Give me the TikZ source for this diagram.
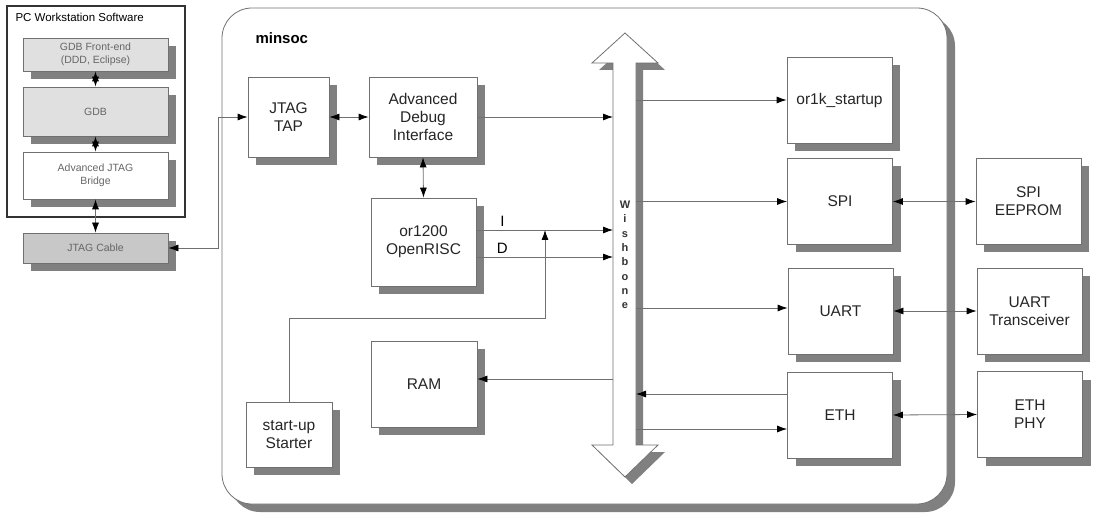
\documentclass[tikz,border=0pt]{standalone}
\usepackage{fontspec}
\setmainfont{Liberation Sans}
\usetikzlibrary{arrows.meta,shadows}
\definecolor{linegray}{HTML}{707070}
\definecolor{shadowgray}{HTML}{808080}
\definecolor{lightbox}{HTML}{E0E0E0}
\definecolor{cablebox}{HTML}{C8C8C8}
\tikzset{
	blk/.style={draw=linegray,fill=white,line width=0.8pt,align=center,text=black!85,
		font=\fontsize{15.5}{18}\selectfont,
		drop shadow={shadow xshift=8pt,shadow yshift=-8pt,fill=shadowgray,opacity=1}},
	rblk/.style={blk,minimum width=105pt,minimum height=86pt},
	swblk/.style={blk,minimum width=145pt,text=black!60,font=\fontsize{10.5}{12.5}\selectfont},
	link/.style={draw=linegray,line width=0.8pt},
}
\begin{document}
\begin{tikzpicture}[>={Latex[length=10pt,width=7pt,color=black]},x=1pt,y=-1pt]
	\useasboundingbox (0,0) rectangle (1100,518);
	% minsoc frame
	\fill[shadowgray,rounded corners=30pt] (230,16) rectangle (955,512);
	\draw[linegray,fill=white,line width=0.8pt,rounded corners=30pt] (222,8) rectangle (947,504);
	\node[anchor=west,font=\bfseries\fontsize{15}{18}\selectfont] (soclbl) at (252,38) {minsoc};
	% PC side
	\draw[black!80,line width=1.4pt] (7,6) rectangle (185,217);
	\node[anchor=west,font=\fontsize{11.5}{14}\selectfont] (pclbl) at (12,17) {PC Workstation Software};
	\node[swblk,fill=lightbox,minimum height=33pt] (gdbfe) at (95.5,54.5) {GDB Front-end\\(DDD, Eclipse)};
	\node[swblk,fill=lightbox,minimum height=49pt] (gdb) at (95.5,111.5) {GDB};
	\node[swblk,minimum height=47pt] (ajb) at (95.5,175.5) {Advanced JTAG\\Bridge};
	\node[swblk,fill=cablebox,minimum height=30pt] (cable) at (95.5,248) {JTAG Cable};
	% wishbone bus
	\fill[shadowgray,shift={(7,7)}] (613,63) -- (592,63) -- (625,33) -- (658,63) -- (636,63)
		-- (636,445) -- (658,445) -- (625,477) -- (592,445) -- (613,445) -- cycle;
	\draw[linegray,fill=white,line width=0.8pt] (613,63) -- (592,63) -- (625,33) -- (658,63) -- (636,63)
		-- (636,445) -- (658,445) -- (625,477) -- (592,445) -- (613,445) -- cycle;
	\node[align=center,font=\bfseries\fontsize{11}{14.3}\selectfont,text=black!80] (wblbl) at (625,255) {W\\i\\s\\h\\b\\o\\n\\e};
	\coordinate (wbl) at (613,0);
	\coordinate (wbr) at (636,0);
	% blocks
	\node[blk,minimum width=81pt,minimum height=80pt] (tap) at (288.5,117) {JTAG\\TAP};
	\node[blk,minimum width=108pt,minimum height=80pt] (adi) at (423,117) {Advanced\\Debug\\Interface};
	\node[blk,minimum width=105pt,minimum height=88pt] (cpu) at (423.5,242) {or1200\\OpenRISC};
	\node[blk,minimum width=106pt,minimum height=86pt] (ram) at (424,384) {RAM};
	\node[blk,minimum width=86pt,minimum height=65pt] (starter) at (289,434.5) {start-up\\Starter};
	\node[rblk] (startup) at (839.5,100) {or1k\_startup};
	\node[rblk] (spi) at (840,201.5) {SPI};
	\node[rblk] (uart) at (840.5,311) {UART};
	\node[rblk] (eth) at (840,415) {ETH};
	\node[rblk] (eeprom) at (1028.5,201.5) {SPI\\EEPROM};
	\node[rblk] (xcvr) at (1029.5,311) {UART\\Transceiver};
	\node[rblk] (phy) at (1030,414.5) {ETH\\PHY};
	% connectors
	\draw[link,<->] (gdbfe.south) -- (gdb.north);
	\draw[link,<->] (gdb.south) -- (ajb.north);
	\draw[link,<->] (ajb.south) -- (cable.north);
	\draw[link,<->] (cable.east) -- ++(50,0) |- (tap.west);
	\draw[link,<->] (tap.east) -- (adi.west);
	\draw[link,->] (adi.east) -- (adi.east -| wbl);
	\draw[link,<->] (adi.south) -- (cpu.north);
	\draw[link,->] ([yshift=12pt]cpu.east) coordinate (ibus) -- (ibus -| wbl) node[pos=0.19,above,font=\fontsize{15}{18}\selectfont] {I};
	\draw[link,->] ([yshift=-15pt]cpu.east) coordinate (dbus) -- (dbus -| wbl) node[pos=0.19,above,font=\fontsize{15}{18}\selectfont] {D};
	\coordinate (jn) at (545,0);
	\draw[link,->] (starter.north) |- (545,318) -- (ibus -| jn);
	\draw[link,->] ([yshift=5pt]ram.east -| wbl) -- ([yshift=5pt]ram.east);
	\draw[link,->] (wbr |- startup.west) -- (startup.west);
	\draw[link,->] (wbr |- spi.west) -- (spi.west);
	\draw[link,->] ([yshift=3pt]uart.west -| wbr) -- ([yshift=3pt]uart.west);
	\draw[link,->] ([yshift=21pt]eth.west) -- ([yshift=21pt]eth.west -| wbr);
	\draw[link,->] ([yshift=-14pt]eth.west -| wbr) -- ([yshift=-14pt]eth.west);
	\draw[link,<->] (spi.east) -- (eeprom.west);
	\draw[link,<->] (uart.east) -- (xcvr.west);
	\draw[link,<->] (eth.east) -- (phy.west);
\end{tikzpicture}
\end{document}
